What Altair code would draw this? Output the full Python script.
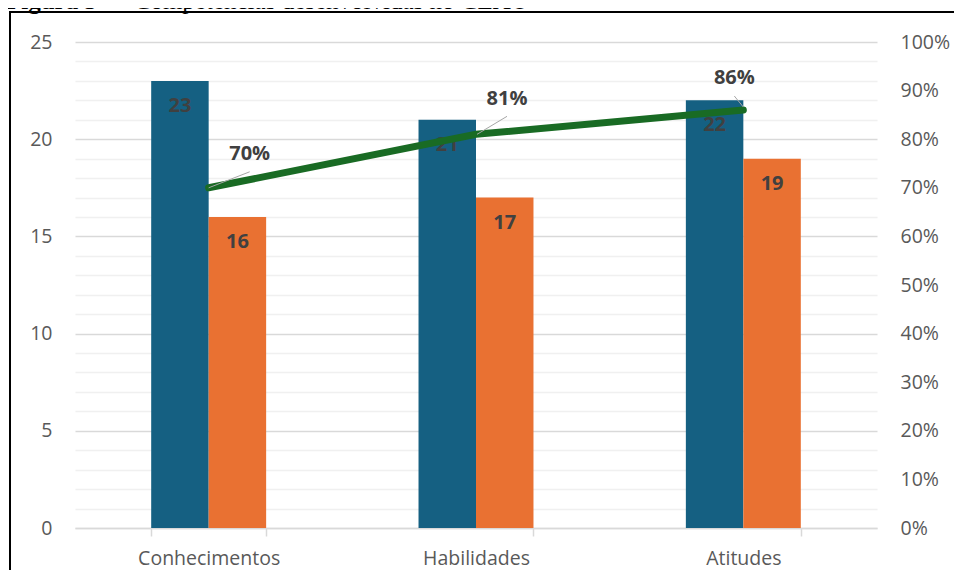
import altair as alt
import pandas as pd

categories = ["Conhecimentos", "Habilidades", "Atitudes"]
series_names = ["Série 1", "Série 2"]
series1 = [23, 21, 22]
series2 = [16, 17, 19]
pct = [0.70, 0.81, 0.86]
left_ticks = list(range(0, 26))
right_ticks = [i / 10 for i in range(0, 11)]
title_bold = "Figura 5"
title_rest = "– Competências desenvolvidas no CEAO"

BLUE = "#156082"
ORANGE = "#E97132"
GREEN = "#196B24"
TXT = "#404040"
AX = "#595959"
FONT = "Open Sans"

bars_df = pd.DataFrame({
    "cat": categories * 2,
    "serie": [series_names[0]] * 3 + [series_names[1]] * 3,
    "val": series1 + series2,
})
pct_df = pd.DataFrame({"cat": categories, "pct": pct})

xscale = alt.Scale(domain=categories, paddingInner=0.57, paddingOuter=0.285)
xaxis = alt.Axis(title=None, labelFont=FONT, labelFontSize=19.5, labelColor=AX,
                 labelPadding=13, domainColor="#d9d9d9", domainWidth=1.5,
                 tickColor="#d9d9d9", tickWidth=1.5, tickSize=8, tickBand="extent",
                 labelAngle=0, grid=False)
x = alt.X("cat:N", scale=xscale, axis=xaxis, sort=categories)

yleft = alt.Y("val:Q", scale=alt.Scale(domain=[0, 25], nice=False),
              axis=alt.Axis(values=left_ticks, grid=True,
                            gridColor={"condition": {"test": "datum.value % 5 === 0", "value": "#d9d9d9"}, "value": "#f0f0f0"},
                            gridWidth=1.5,
                            labelExpr="datum.value % 5 === 0 ? datum.label : ''",
                            labelOverlap=False, ticks=False, domain=False,
                            labelPadding=23, labelFont=FONT, labelFontSize=19.5,
                            labelColor=AX, title=None, orient="left"))

color = alt.Color("serie:N", scale=alt.Scale(domain=series_names, range=[BLUE, ORANGE]), legend=None)
xoff = alt.XOffset("serie:N", scale=alt.Scale(domain=series_names, paddingInner=0, paddingOuter=0))

bars = alt.Chart(bars_df).mark_bar().encode(x=x, y=yleft, color=color, xOffset=xoff)
bar_labels = alt.Chart(bars_df).mark_text(
    font=FONT, fontSize=20, fontWeight="bold", color=TXT, baseline="middle", dy=25
).encode(x=x, y=yleft, xOffset=xoff, text="val:Q")

left = alt.layer(bars, bar_labels)

yright = alt.Y("pct:Q", scale=alt.Scale(domain=[0, 1], nice=False),
               axis=alt.Axis(values=right_ticks, format=".0%", grid=False, ticks=False,
                             domain=False, labelPadding=23, labelFont=FONT,
                             labelFontSize=19.5, labelColor=AX, title=None, orient="right"))

line = alt.Chart(pct_df).mark_line(color=GREEN, strokeWidth=7, strokeCap="round").encode(
    x=x, y=yright)

label_offsets = [(41, -34), (31, -35), (-9, -32)]
leader_offsets = [(0, 0, 41, -16), (1, 0, 31, -18), (-9, -14, 0, -3)]

right_layers = [line]
for cat, (dx, dy), (a, b, c, d) in zip(categories, label_offsets, leader_offsets):
    right_layers.append(
        alt.Chart(pct_df).transform_filter(alt.datum.cat == cat).mark_rule(
            color="#a6a6a6", strokeWidth=1,
            xOffset=a, yOffset=b, x2Offset=c, y2Offset=d
        ).encode(x=x, x2="cat:N", y=yright, y2="pct:Q")
    )
    right_layers.append(
        alt.Chart(pct_df).transform_filter(alt.datum.cat == cat).mark_text(
            font=FONT, fontSize=20, fontWeight="bold", color=TXT,
            baseline="middle", align="center", dx=dx, dy=dy
        ).encode(x=x, y=yright, text=alt.Text("pct:Q", format=".0%"))
    )

right = alt.layer(*right_layers)

one = alt.Data(values=[{"k": 1}])
frame_top = alt.Chart(one).mark_rule(stroke="black", strokeWidth=2).encode(
    x=alt.value(-65), x2=alt.value(885), y=alt.value(-30))
frame_left = alt.Chart(one).mark_rule(stroke="black", strokeWidth=2).encode(
    x=alt.value(-65), y=alt.value(-31), y2=alt.value(540))
t1 = alt.Chart(one).mark_text(font="Liberation Serif", fontSize=25, fontWeight="bold",
                              align="left", baseline="alphabetic", color="black").encode(
    x=alt.value(-69), y=alt.value(-33.5), text=alt.value(title_bold))
t2 = alt.Chart(one).mark_text(font="Liberation Serif", fontSize=25,
                              align="left", baseline="alphabetic", color="black").encode(
    x=alt.value(40), y=alt.value(-33.5), text=alt.value(title_rest))

chart = alt.layer(left, right, frame_top, frame_left, t1, t2).resolve_scale(
    y="independent"
).properties(
    width=802, height=486,
    autosize=alt.AutoSizeParams(type="none"),
    padding={"left": 67, "top": 34, "right": 77, "bottom": 42},
).configure_view(stroke=None)

chart.save("out.html", embed_options={"renderer": "svg", "actions": False})
